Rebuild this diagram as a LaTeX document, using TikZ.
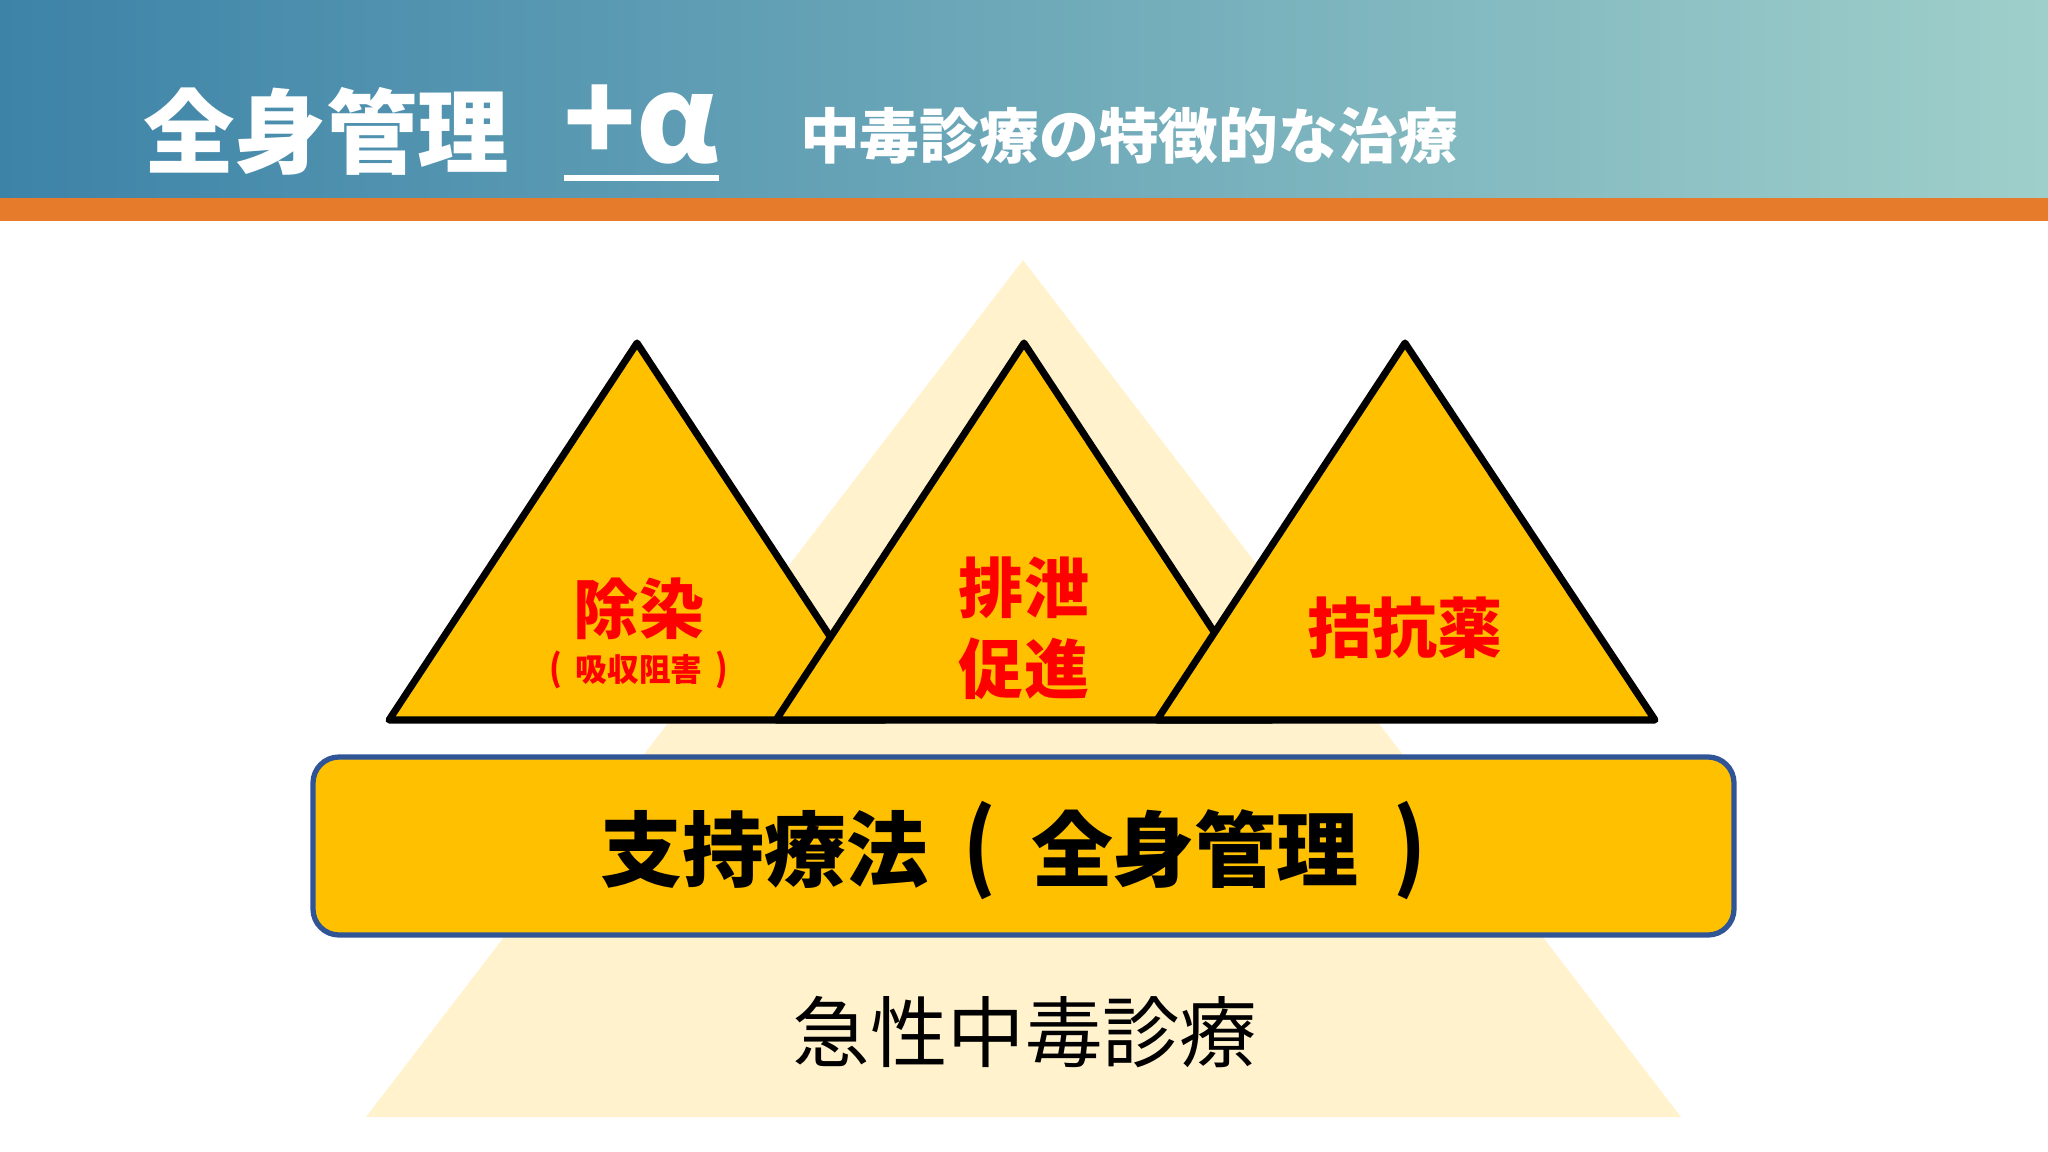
\documentclass[tikz,border=0pt]{standalone}
\usepackage{fontspec}
\newfontfamily\jpfont{Noto Sans CJK JP}

\definecolor{headleft}{HTML}{3D83A8}
\definecolor{headright}{HTML}{9FCFCA}
\definecolor{headline}{HTML}{E67C2B}
\definecolor{cream}{HTML}{FFF2CC}
\definecolor{gold}{HTML}{FFC000}
\definecolor{boxline}{HTML}{2F5597}
\definecolor{alert}{HTML}{FF0000}

% full-width cell with a centred bracket
\newcommand{\cellparen}[1]{\makebox[1.25em][c]{\scalebox{1}[1.15]{#1}}}

\begin{document}
\begin{tikzpicture}[x=0.01cm, y=-0.01cm,
    peak/.style={fill=gold, draw=black, line width=2pt, line join=round},
    redlabel/.style={text=alert, font=\jpfont\bfseries\fontsize{18.5}{22}\selectfont, align=center, inner sep=0pt},
    headtext/.style={text=white, inner sep=0pt}]
    \useasboundingbox (0,0) rectangle (2048,1152);

    % Header band
    \shade[left color=headleft, right color=headright] (0,0) rectangle (2048,198);
    \fill[headline] (0,198) rectangle (2048,221);

    % Title
    \node[headtext, font=\jpfont\bfseries\fontsize{26}{30}\selectfont] (title) at (326,131) {全身管理};
    \node[headtext, font=\jpfont\bfseries\fontsize{34}{38}\selectfont] (alpha) at (641,124) {+α};
    \draw[white, line width=1.6pt] (564,178) -- (719,178); % underline
    \node[headtext, font=\jpfont\bfseries\fontsize{17}{20}\selectfont] (subtitle) at (1129,136) {中毒診療の特徴的な治療};

    % Background pyramid
    \fill[cream] (1023,260) -- (1681,1117) -- (366,1117) -- cycle;

    % Three peaks
    \filldraw[peak] (389,720) -- (637,343) -- (885,720) -- cycle;
    \filldraw[peak] (776,720) -- (1024,343) -- (1272,720) -- cycle;
    \filldraw[peak] (1157,720) -- (1405,343) -- (1655,720) -- cycle;

    \node[redlabel] (decon) at (639,609) {除染};
    \node[redlabel, font=\jpfont\bfseries\fontsize{9}{11}\selectfont] (absorb) at (639,670) {\cellparen{(}吸収阻害\cellparen{)}};
    \node[redlabel, font=\jpfont\bfseries\fontsize{18.5}{23}\selectfont] (excrete) at (1024,628) {排泄\\促進};
    \node[redlabel] (antidote) at (1405,628) {拮抗薬};

    % Supportive care bar
    \draw[fill=gold, draw=boxline, line width=1.5pt, rounded corners=0.26cm] (313,757) rectangle (1734,935);
    \node[font=\jpfont\bfseries\fontsize{23.3}{26}\selectfont, inner sep=0pt] (support) at (1031,851) {支持療法\cellparen{(}全身管理\cellparen{)}};

    % Base label
    \node[font=\jpfont\fontsize{22}{26}\selectfont, inner sep=0pt] (acute) at (1025,1032) {急性中毒診療};

\end{tikzpicture}
\end{document}
